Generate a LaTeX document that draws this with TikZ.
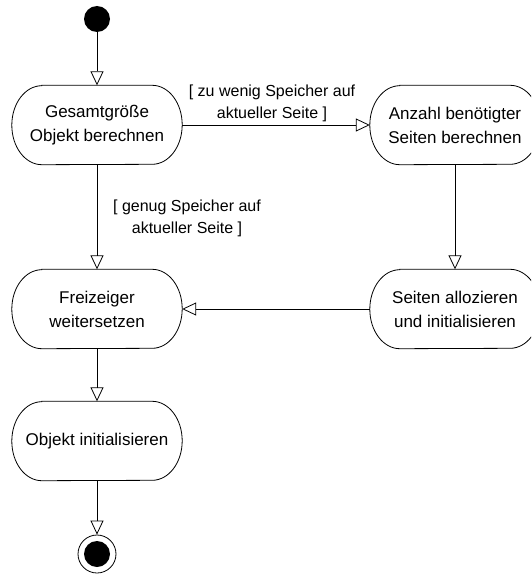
\documentclass[tikz,border=0pt]{standalone}
\usepackage{fontspec}
\setmainfont{Liberation Sans}
\usetikzlibrary{arrows.meta,calc}
\begin{document}
\begin{tikzpicture}[x=1pt,y=-1pt,
  flow/.style={line width=0.8pt,-{Triangle[open,length=14pt,width=13pt,line width=0.8pt]}},
  act/.style={minimum width=170pt,minimum height=79pt,inner sep=0pt,align=center,
    font=\fontsize{17}{24}\selectfont},
  guard/.style={align=center,inner sep=0pt,font=\fontsize{16}{22}\selectfont},
  stadium/.style={line width=0.8pt}
]
\clip (0,0) rectangle (531,575);

% activity nodes (text only; outlines drawn below)
\node[act] (b1) at (97,125) {Gesamtgröße\\Objekt berechnen};
\node[act] (b2) at (455,125) {Anzahl benötigter\\Seiten berechnen};
\node[act] (b3) at (97,309) {Freizeiger\\weitersetzen};
\node[act] (b4) at (455,309) {Seiten allozieren\\und initialisieren};
\node[act] (b5) at (97,441) {Objekt initialisieren};

% stadium-shaped outlines
\foreach \n in {b1,b2,b3,b4,b5}
  \draw[stadium] ($(\n.north west)+(30,0)$) -- ($(\n.north east)+(-30,0)$)
    arc[start angle=90,end angle=-90,x radius=30pt,y radius=39.5pt]
    -- ($(\n.south west)+(30,0)$)
    arc[start angle=270,end angle=90,x radius=30pt,y radius=39.5pt] -- cycle;

% initial and final nodes
\node[circle,fill=black,minimum size=26pt,inner sep=0pt] (start) at (97,19) {};
\node[circle,draw,line width=0.8pt,minimum size=38pt,inner sep=0pt] (final) at (97,554) {};
\node[circle,fill=black,minimum size=26pt,inner sep=0pt] (finalin) at (final) {};

% guards
\node[guard] (g1) at (272,103) {[ zu wenig Speicher auf\\aktueller Seite ]};
\node[guard] (g2) at (187,218) {[ genug Speicher auf\\aktueller Seite ]};

% transitions
\draw[flow] (start) -- (b1);
\draw[flow] (b1) -- (b2);
\draw[flow] (b1) -- (b3);
\draw[flow] (b2) -- (b4);
\draw[flow] (b4) -- (b3);
\draw[flow] (b3) -- (b5);
\draw[flow] (b5) -- (final);
\end{tikzpicture}
\end{document}
